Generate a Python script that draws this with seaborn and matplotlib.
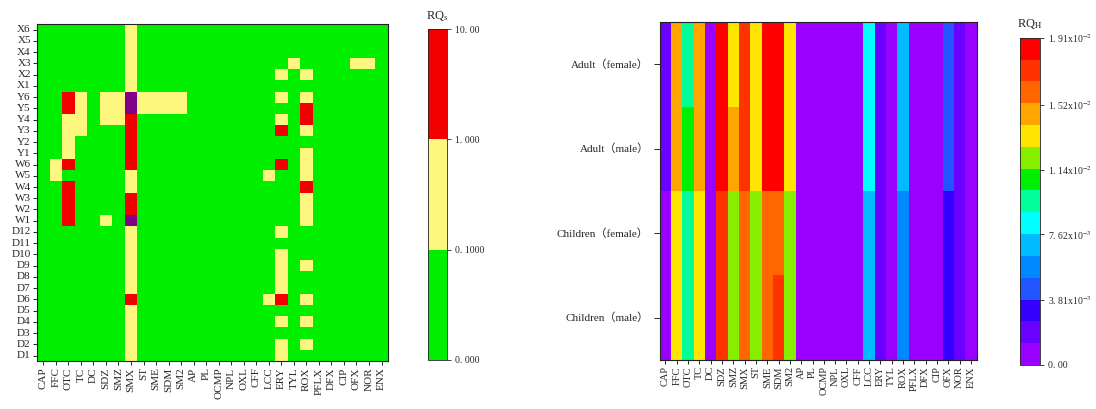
import numpy as np
import pandas as pd
import matplotlib
matplotlib.use('Agg')
import matplotlib.pyplot as plt
from matplotlib.colors import ListedColormap, BoundaryNorm
import seaborn as sns

sns.set_style('white')
plt.rcParams['font.family'] = ['Liberation Serif', 'Noto Sans CJK SC']
plt.rcParams['mathtext.fontset'] = 'stix'

drugs = ['CAP', 'FFC', 'OTC', 'TC', 'DC', 'SDZ', 'SMZ', 'SMX', 'ST', 'SME', 'SDM', 'SM2',
         'AP', 'PL', 'OCMP', 'NPL', 'OXL', 'CFF', 'LCC', 'ERY', 'TYL', 'ROX', 'PFLX',
         'DFX', 'CIP', 'OFX', 'NOR', 'ENX']

sites = ['X6', 'X5', 'X4', 'X3', 'X2', 'X1', 'Y6', 'Y5', 'Y4', 'Y3', 'Y2', 'Y1',
         'W6', 'W5', 'W4', 'W3', 'W2', 'W1', 'D12', 'D11', 'D10', 'D9', 'D8', 'D7',
         'D6', 'D5', 'D4', 'D3', 'D2', 'D1']

# RQs class of each drug per site (g <0.1, y 0.1-1, r 1-10, p >10), groups of 4 drugs
site_class = [
    'gggg gggy gggg gggg gggg gggg gggg',  # X6
    'gggg gggy gggg gggg gggg gggg gggg',  # X5
    'gggg gggy gggg gggg gggg gggg gggg',  # X4
    'gggg gggy gggg gggg gggg yggg gyyg',  # X3
    'gggg gggy gggg gggg gggy gygg gggg',  # X2
    'gggg gggy gggg gggg gggg gggg gggg',  # X1
    'ggry gyyp yyyy gggg gggy gygg gggg',  # Y6
    'ggry gyyp yyyy gggg gggg grgg gggg',  # Y5
    'ggyy gyyr gggg gggg gggy grgg gggg',  # Y4
    'ggyy gggr gggg gggg gggr gygg gggg',  # Y3
    'ggyg gggr gggg gggg gggg gggg gggg',  # Y2
    'ggyg gggr gggg gggg gggg gygg gggg',  # Y1
    'gyrg gggr gggg gggg gggr gygg gggg',  # W6
    'gygg gggy gggg gggg ggyg gygg gggg',  # W5
    'ggrg gggy gggg gggg gggg grgg gggg',  # W4
    'ggrg gggr gggg gggg gggg gygg gggg',  # W3
    'ggrg gggr gggg gggg gggg gygg gggg',  # W2
    'ggrg gygp gggg gggg gggg gygg gggg',  # W1
    'gggg gggy gggg gggg gggy gggg gggg',  # D12
    'gggg gggy gggg gggg gggg gggg gggg',  # D11
    'gggg gggy gggg gggg gggy gggg gggg',  # D10
    'gggg gggy gggg gggg gggy gygg gggg',  # D9
    'gggg gggy gggg gggg gggy gggg gggg',  # D8
    'gggg gggy gggg gggg gggy gggg gggg',  # D7
    'gggg gggr gggg gggg ggyr gygg gggg',  # D6
    'gggg gggy gggg gggg gggg gggg gggg',  # D5
    'gggg gggy gggg gggg gggy gygg gggg',  # D4
    'gggg gggy gggg gggg gggg gggg gggg',  # D3
    'gggg gggy gggg gggg gggy gygg gggg',  # D2
    'gggg gggy gggg gggg gggy gggg gggg',  # D1
]
class_rq = {'g': 0.05, 'y': 0.5, 'r': 5.0, 'p': 15.0}

groups = ['Adult（female）', 'Adult（male）', 'Children（female）', 'Children（male）']
# RQh x 1e-3
adult_female = [1.9, 14.6, 9.5, 14.6, 0, 18.5, 13.4, 17.2, 13.4, 18.5, 18.5, 13.4,
                0, 0, 0, 0, 0, 0, 8.3, 1.9, 0, 7.0, 0, 0, 0, 4.5, 1.9, 0]
adult_male = [1.9, 14.6, 10.8, 14.6, 0, 18.5, 14.6, 17.2, 13.4, 18.5, 18.5, 13.4,
              0, 0, 0, 0, 0, 0, 8.3, 1.9, 0, 7.0, 0, 0, 0, 4.5, 1.9, 0]
children_female = [0.3, 13.4, 9.5, 13.4, 0, 17.2, 12.1, 15.9, 12.1, 15.9, 15.9, 12.1,
                   0, 0, 0, 0, 0, 0, 7.0, 1.9, 0, 5.7, 0, 0, 0, 3.2, 1.9, 0]
children_male = [0.3, 13.4, 9.5, 13.4, 0, 17.2, 12.1, 15.9, 12.1, 15.9, 17.2, 12.1,
                 0, 0, 0, 0, 0, 0, 7.0, 1.9, 0, 5.7, 0, 0, 0, 3.2, 1.9, 0]

rqs_ticks = [0, 0.1, 1, 10]
rqs_labels = ['0. 000', '0. 1000', '1. 000', '10. 00']
rqh_ticks = [0, 3.81e-3, 7.62e-3, 1.14e-2, 1.52e-2, 1.91e-2]
rqh_labels = ['0. 00', '3. 81x10$^{-3}$', '7. 62x10$^{-3}$', '1. 14x10$^{-2}$',
              '1. 52x10$^{-2}$', '1. 91x10$^{-2}$']

#%%
rqs = pd.DataFrame([[class_rq[c] for c in row.replace(' ', '')] for row in site_class],
                   index=sites, columns=drugs)
rqh = pd.DataFrame([adult_female, adult_male, children_female, children_male],
                   index=groups, columns=drugs) * 1e-3

fig = plt.figure(figsize=(10.96, 4.09), dpi=100)
ax1 = fig.add_axes([0.0338, 0.117, 0.320, 0.824])
cax1 = fig.add_axes([0.3905, 0.12, 0.0173, 0.809])
ax2 = fig.add_axes([0.602, 0.12, 0.289, 0.826])
cax2 = fig.add_axes([0.931, 0.1076, 0.018, 0.80])

# left: site RQs
cmap1 = ListedColormap(['#00ee00', '#fdf67f', '#f20000'])
cmap1.set_over('#80008a')
norm1 = BoundaryNorm(rqs_ticks, 3)
sns.heatmap(rqs, ax=ax1, cmap=cmap1, norm=norm1, cbar_ax=cax1,
            xticklabels=True, yticklabels=True,
            cbar_kws={'ticks': rqs_ticks})
cax1.set_yticklabels(rqs_labels)
cax1.set_title('RQ$_\\mathrm{s}$', fontsize=9, pad=7)

# right: population RQh
colors_h = ['#9900ff', '#6a00ff', '#3300ff', '#2255ff', '#0088ff', '#00bbff', '#00ffff',
            '#00ff99', '#00ee00', '#88ee00', '#ffe600', '#ffa500', '#ff6600', '#ff3300',
            '#ff0000']
cmap2 = ListedColormap(colors_h)
norm2 = BoundaryNorm(np.linspace(0, 0.0191, 16), 15)
sns.heatmap(rqh, ax=ax2, cmap=cmap2, norm=norm2, cbar_ax=cax2,
            xticklabels=True, yticklabels=True,
            cbar_kws={'ticks': rqh_ticks})
cax2.set_yticklabels(rqh_labels)
cax2.set_title('RQ$_\\mathrm{H}$', fontsize=9, pad=8)

for ax in (ax1, ax2):
    for s in ax.spines.values():
        s.set_visible(True)
        s.set_linewidth(0.8)
        s.set_color('#222222')
    ax.tick_params(bottom=True, left=True, length=3, width=0.6, color='black', pad=1.5)
    ax.set_xlabel('')
    ax.set_ylabel('')
    cb = ax.collections[0].colorbar
    cb.minorticks_off()
    cb.outline.set_edgecolor('#222222')
    cb.outline.set_linewidth(0.6)
    cb.ax.tick_params(right=True, length=3, width=0.6, labelsize=7, pad=2.5)
plt.setp(ax1.get_xticklabels(), rotation=90, fontsize=8)
plt.setp(ax2.get_xticklabels(), rotation=90, fontsize=7.5)
ax1.tick_params(axis='y', labelsize=8)
plt.setp(ax1.get_yticklabels(), rotation=0)
ax2.tick_params(axis='y', labelsize=8, length=4, pad=4)
plt.setp(ax2.get_yticklabels(), rotation=0)

plt.savefig('out.png', dpi=100)
